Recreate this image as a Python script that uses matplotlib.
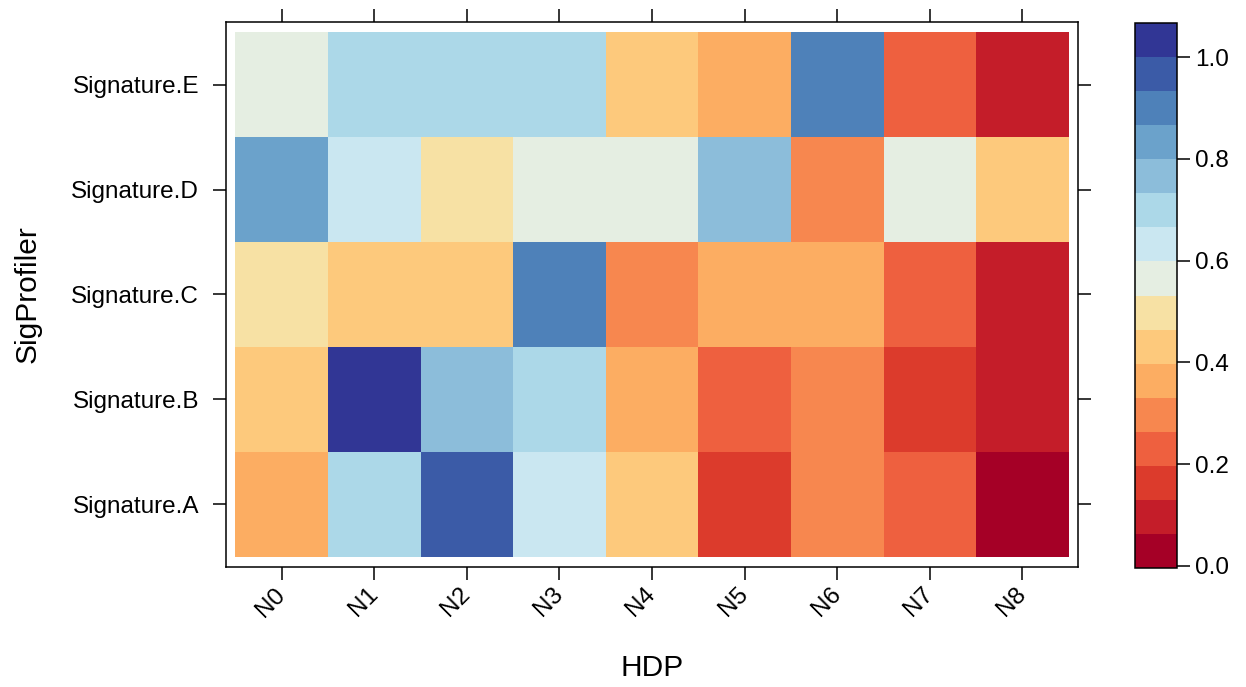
import numpy as np
import matplotlib
matplotlib.use("Agg")
import matplotlib.pyplot as plt
from matplotlib.colors import BoundaryNorm, ListedColormap

plt.rcParams['font.family'] = ['Liberation Sans', 'DejaVu Sans']

hdp = ["N0", "N1", "N2", "N3", "N4", "N5", "N6", "N7", "N8"]
sigprofiler = ["Signature.A", "Signature.B", "Signature.C", "Signature.D", "Signature.E"]

sig_a = [0.36, 0.70, 0.97, 0.63, 0.43, 0.16, 0.30, 0.23, 0.03]
sig_b = [0.43, 1.03, 0.77, 0.70, 0.36, 0.23, 0.30, 0.16, 0.10]
sig_c = [0.50, 0.43, 0.43, 0.90, 0.30, 0.36, 0.36, 0.23, 0.10]
sig_d = [0.83, 0.63, 0.50, 0.56, 0.56, 0.77, 0.30, 0.56, 0.43]
sig_e = [0.56, 0.70, 0.70, 0.70, 0.43, 0.36, 0.90, 0.23, 0.10]

values = np.array([sig_a, sig_b, sig_c, sig_d, sig_e])

breaks = np.linspace(-0.004, 1.067, 17)
palette = ["#a50026", "#c41d29", "#dc3b2c", "#ee603f", "#f7874f", "#fcad62",
           "#fdc97c", "#f7e1a4", "#e5eee2", "#cae7f1", "#acd8e8", "#8cbdda",
           "#6ba2cb", "#4e81b9", "#3b5ba7", "#313695"]
cmap = ListedColormap(palette)
norm = BoundaryNorm(breaks, cmap.N)

fig = plt.figure(figsize=(12.46, 6.87), dpi=100)
ax = fig.add_axes([0.1814, 0.1747, 0.6838, 0.7933])
xe = np.arange(len(hdp) + 1) - 0.5
ye = np.arange(len(sigprofiler) + 1) - 0.5
mesh = ax.pcolormesh(xe, ye, values, cmap=cmap, norm=norm)
ax.set_xlim(-0.6, len(hdp) - 0.4)
ax.set_ylim(-0.6, len(sigprofiler) - 0.4)
ax.set_xticks(np.arange(len(hdp)))
ax.set_yticks(np.arange(len(sigprofiler)))
ax.set_xticklabels(hdp, rotation=45, ha='right', va='center',
                   rotation_mode='anchor', fontsize=17.5)
ax.set_yticklabels(sigprofiler, fontsize=17.5)
ax.tick_params(axis='both', direction='out', length=9.5, width=1.1,
               top=True, right=True, labeltop=False, labelright=False)
ax.tick_params(axis='y', pad=10)
ax.tick_params(axis='x', pad=8)
for s in ax.spines.values():
    s.set_linewidth(1.1)
ax.set_xlabel("HDP", fontsize=21.5, va='center')
ax.set_ylabel("SigProfiler", fontsize=21.5, va='center')
ax.xaxis.set_label_coords(0.5, -0.185)
ax.yaxis.set_label_coords(-0.2324, 0.5)

cax = fig.add_axes([0.9109, 0.1732, 0.0337, 0.7933])
cb = fig.colorbar(mesh, cax=cax, ticks=[0.0, 0.2, 0.4, 0.6, 0.8, 1.0])
cb.ax.minorticks_off()
cb.ax.set_yticklabels(["0.0", "0.2", "0.4", "0.6", "0.8", "1.0"], fontsize=17.5)
cb.ax.tick_params(direction='out', length=9, width=1.1, pad=4)
cb.outline.set_linewidth(1.1)

fig.savefig("out.png", dpi=100)
